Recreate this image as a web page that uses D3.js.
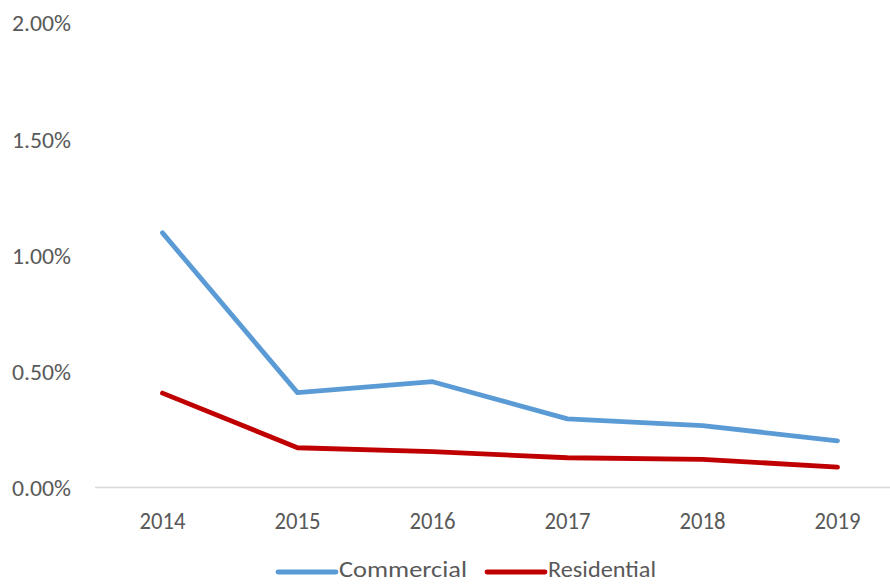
<!DOCTYPE html>
<html>
<head>
<meta charset="utf-8">
<script src="https://cdn.jsdelivr.net/npm/d3@7"></script>
<style>
  html, body { margin: 0; padding: 0; background: #fff; }
  svg { display: block; }
  text { font-family: Calibri, Carlito, Lato, "Open Sans", sans-serif; fill: #595959; }
</style>
</head>
<body>
<svg id="chart" width="890" height="584"></svg>
<script>
const years = ["2014", "2015", "2016", "2017", "2018", "2019"];
const commercial = [0.01095, 0.00408, 0.00455, 0.00295, 0.00266, 0.00201];
const residential = [0.00406, 0.00171, 0.00154, 0.00128, 0.00121, 0.00088];
const yTicks = [0, 0.005, 0.01, 0.015, 0.02];
const seriesNames = ["Commercial", "Residential"];
const seriesColors = ["#5B9BD5", "#C00000"];

const svg = d3.select("#chart");
const x = d3.scaleBand().domain(years).range([95, 905]);
const y = d3.scaleLinear().domain([0, 0.02]).range([487.5, 22.5]);
const fmt = d3.format(".2%");

// y-axis labels (no line)
const yAxis = d3.axisLeft(y).tickValues(yTicks).tickFormat(fmt).tickSize(0).tickPadding(0);
const yg = svg.append("g").attr("transform", "translate(71,0)").call(yAxis);
yg.select(".domain").remove();
yg.selectAll("text")
  .attr("font-size", 23).attr("fill", "#595959")
  .style("font-family", "Calibri, Carlito, Lato, sans-serif")
  .attr("x", 0).attr("dy", "0.36em")
  .attr("textLength", 59).attr("lengthAdjust", "spacingAndGlyphs");

// x-axis
const xAxis = d3.axisBottom(x).tickSize(0).tickPadding(0);
const xg = svg.append("g").attr("transform", `translate(0,${y(0)})`).call(xAxis);
xg.select(".domain").attr("stroke", "#d9d9d9").attr("stroke-width", 1.5)
  .attr("d", `M${x.range()[0]},0H${x.range()[1]}`);
xg.selectAll("text")
  .attr("font-size", 24).attr("fill", "#595959")
  .style("font-family", "Calibri, Carlito, Lato, sans-serif")
  .attr("y", 41).attr("dy", 0)
  .attr("textLength", 46).attr("lengthAdjust", "spacingAndGlyphs");

// lines
const line = d3.line()
  .x((d, i) => x(years[i]) + x.bandwidth() / 2)
  .y(d => y(d));

[commercial, residential].forEach((vals, k) => {
  svg.append("path")
    .datum(vals)
    .attr("fill", "none")
    .attr("stroke", seriesColors[k])
    .attr("stroke-width", 4.8)
    .attr("stroke-linecap", "round")
    .attr("stroke-linejoin", "round")
    .attr("d", line);
});

// legend
const legendItems = [
  { name: seriesNames[0], color: seriesColors[0], x0: 278, len: 128 },
  { name: seriesNames[1], color: seriesColors[1], x0: 487, len: 108 }
];
legendItems.forEach(it => {
  svg.append("line")
    .attr("x1", it.x0).attr("x2", it.x0 + 58)
    .attr("y1", 572).attr("y2", 572)
    .attr("stroke", it.color).attr("stroke-width", 4.8)
    .attr("stroke-linecap", "round");
  svg.append("text")
    .attr("x", it.x0 + 61).attr("y", 577)
    .attr("font-size", 22)
    .attr("textLength", it.len).attr("lengthAdjust", "spacingAndGlyphs")
    .text(it.name);
});
</script>
</body>
</html>
